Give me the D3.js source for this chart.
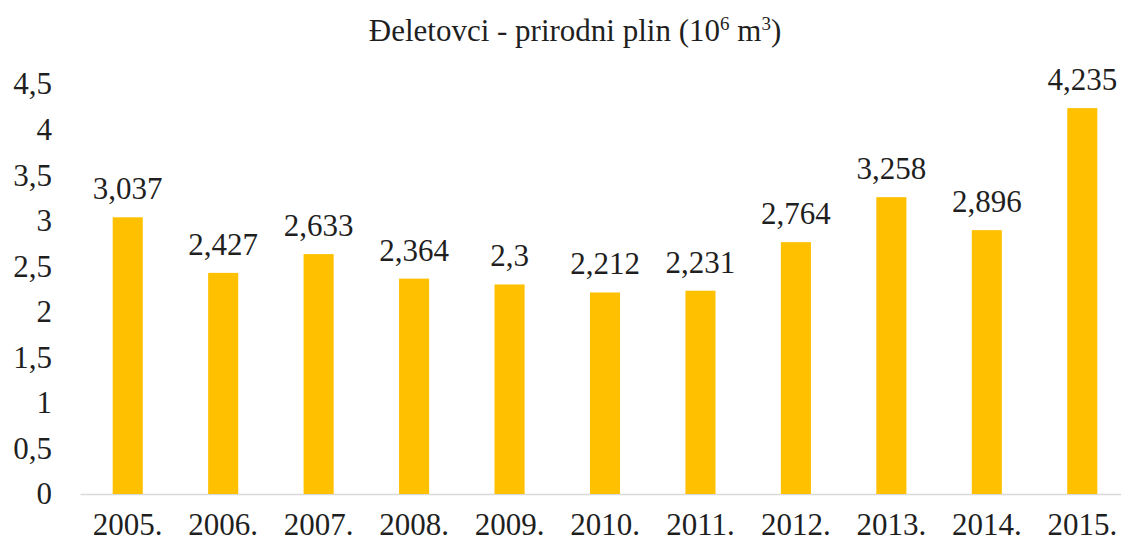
<!DOCTYPE html>
<html>
<head>
<meta charset="utf-8">
<script src="https://cdnjs.cloudflare.com/ajax/libs/d3/7.8.5/d3.min.js"></script>
<style>
  body { margin: 0; background: #fff; }
</style>
</head>
<body>
<div id="chart"></div>
<script>
// data
var years = ["2005.", "2006.", "2007.", "2008.", "2009.", "2010.", "2011.", "2012.", "2013.", "2014.", "2015."];
var values = [3.037, 2.427, 2.633, 2.364, 2.3, 2.212, 2.231, 2.764, 3.258, 2.896, 4.235];
var yTicks = [0, 0.5, 1, 1.5, 2, 2.5, 3, 3.5, 4, 4.5];

var width = 1121, height = 545;
var margin = {top: 84, right: -9, bottom: 51, left: 80};
var serif = "'Liberation Serif', 'Times New Roman', serif";
var ink = "#1f1f1f";

var svg = d3.select("#chart").append("svg")
    .attr("width", width)
    .attr("height", height)
    .attr("font-family", serif);

var x = d3.scaleBand()
    .domain(years)
    .range([margin.left, width - margin.right])
    .paddingInner(0.685)
    .paddingOuter(0.3425);

var y = d3.scaleLinear()
    .domain([0, 4.5])
    .range([height - margin.bottom, margin.top]);

var comma = function(v) { return String(v).replace(".", ","); };

// title
var title = svg.append("text")
    .attr("x", 575)
    .attr("y", 41)
    .attr("text-anchor", "middle")
    .attr("fill", ink)
    .attr("font-size", 31);
title.append("tspan").text("Đeletovci - prirodni plin (10");
title.append("tspan").attr("dy", -11).attr("font-size", 19).text("6");
title.append("tspan").attr("dy", 11).text(" m");
title.append("tspan").attr("dy", -11).attr("font-size", 19).text("3");
title.append("tspan").attr("dy", 11).text(")");

// y axis (labels only)
var yAxis = svg.append("g")
    .attr("transform", "translate(" + margin.left + ",0)")
    .call(d3.axisLeft(y).tickValues(yTicks).tickSize(0).tickPadding(28).tickFormat(comma));
yAxis.attr("font-family", serif).attr("font-size", 31);
yAxis.select(".domain").remove();
yAxis.selectAll("text").attr("fill", ink);

// x axis
var xAxis = svg.append("g")
    .attr("transform", "translate(0," + y(0) + ")")
    .call(d3.axisBottom(x).tickSize(0).tickPadding(19));
xAxis.attr("font-family", serif).attr("font-size", 31);
xAxis.select(".domain").attr("stroke", "#d9d9d9").attr("stroke-width", 1.5);
xAxis.selectAll("text").attr("fill", ink);

// bars
svg.selectAll(".bar")
    .data(values)
    .enter().append("rect")
    .attr("class", "bar")
    .attr("x", function(d, i) { return x(years[i]); })
    .attr("y", function(d) { return y(d); })
    .attr("width", x.bandwidth())
    .attr("height", function(d) { return y(0) - y(d); })
    .attr("fill", "#ffc000");

// value labels
svg.selectAll(".val")
    .data(values)
    .enter().append("text")
    .attr("class", "val")
    .attr("x", function(d, i) { return x(years[i]) + x.bandwidth() / 2; })
    .attr("y", function(d) { return y(d) - 18; })
    .attr("text-anchor", "middle")
    .attr("fill", ink)
    .attr("font-size", 31)
    .text(function(d) { return comma(d); });
</script>
</body>
</html>
